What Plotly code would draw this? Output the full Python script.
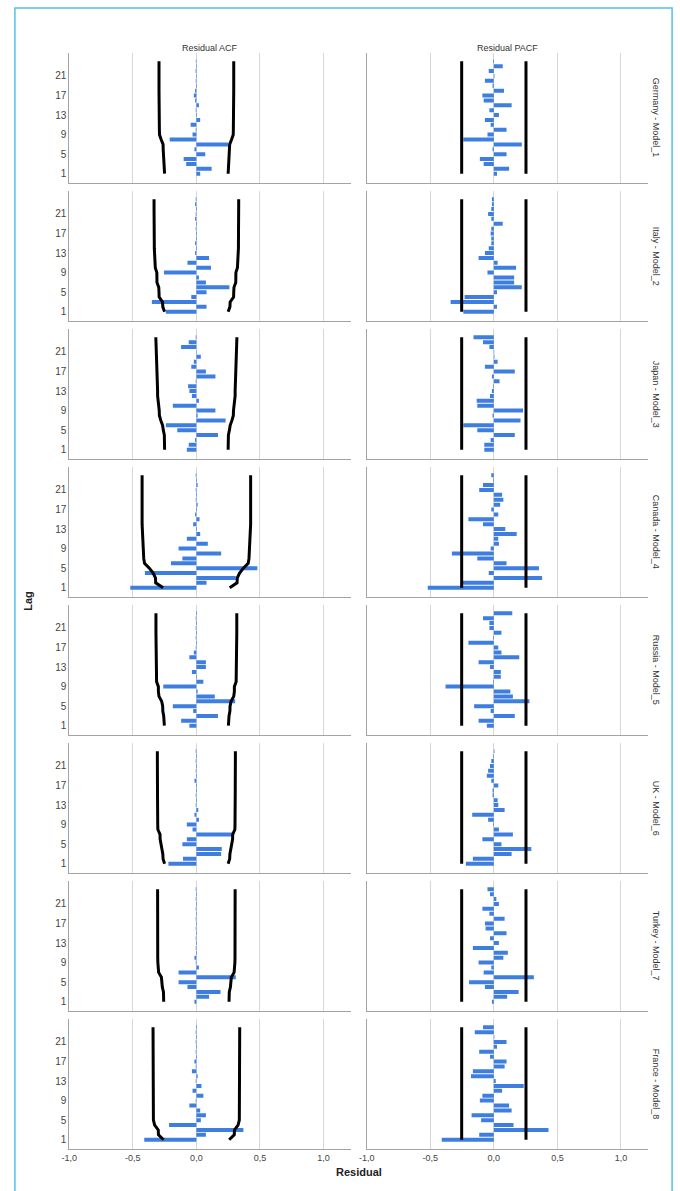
import plotly.graph_objects as go

lags = list(range(1, 25))
row_labels = ["Germany - Model_1", "Italy - Model_2", "Japan - Model_3", "Canada - Model_4",
              "Russia - Model_5", "UK - Model_6", "Turkey - Model_7", "France - Model_8"]
col_titles = ["Residual ACF", "Residual PACF"]
x_tickvals = [-1.0, -0.5, 0.0, 0.5, 1.0]
x_ticktext = ["-1,0", "-0,5", "0,0", "0,5", "1,0"]
y_tickvals = [1, 5, 9, 13, 17, 21]

# ---- residual ACF values (lag 1 .. 24) ----
germany_acf = [0.03, 0.12, -0.08, -0.10, 0.07, -0.015, 0.25, -0.21, -0.03, -0.005, -0.045, 0.03,
               0.005, -0.005, 0.02, -0.01, -0.02, -0.01, 0.005, -0.005, 0.004, -0.006, 0.004, -0.004]
italy_acf = [-0.24, 0.08, -0.35, -0.04, 0.08, 0.26, 0.075, 0.02, -0.255, 0.115, -0.07, 0.10,
             -0.01, 0.005, -0.01, 0.005, 0.005, -0.005, 0.005, -0.01, -0.005, 0.005, -0.01, -0.005]
japan_acf = [-0.075, -0.06, -0.01, 0.17, -0.15, -0.24, 0.23, 0.01, 0.15, -0.185, 0.02, -0.035,
             -0.055, -0.065, -0.005, 0.15, 0.075, -0.04, -0.02, 0.035, 0.003, -0.12, -0.06, -0.005]
canada_acf = [-0.52, 0.08, 0.31, -0.405, 0.48, -0.20, -0.11, 0.195, -0.14, 0.09, -0.075, 0.03,
              0.005, -0.025, 0.025, -0.01, 0.005, 0.01, -0.005, 0.005, -0.005, 0.01, 0.005, -0.005]
russia_acf = [-0.055, -0.12, 0.17, -0.025, -0.185, 0.305, 0.145, 0.01, -0.26, 0.055, 0.005, -0.035,
              0.075, 0.075, -0.055, -0.02, -0.005, 0.005, -0.005, 0.005, -0.005, 0.005, -0.005, 0.005]
uk_acf = [-0.22, -0.105, 0.195, 0.20, -0.11, -0.075, 0.285, -0.03, -0.075, 0.02, -0.015, 0.015,
          -0.005, 0.005, -0.005, 0.005, 0.005, -0.015, 0.005, -0.005, 0.005, -0.005, 0.005, -0.005]
turkey_acf = [-0.015, 0.10, 0.19, -0.07, -0.14, 0.31, -0.14, 0.02, -0.005, -0.015, 0.005, -0.005,
              0.005, -0.005, 0.005, -0.005, 0.005, -0.005, 0.005, -0.005, 0.005, -0.005, 0.005, -0.005]
france_acf = [-0.41, 0.075, 0.37, -0.215, 0.035, 0.075, 0.03, -0.055, -0.005, 0.055, -0.03, 0.04,
              -0.005, 0.01, -0.035, -0.005, -0.015, 0.005, -0.005, 0.005, -0.005, 0.005, -0.005, 0.005]

# ---- residual PACF values (lag 1 .. 24) ----
germany_pacf = [0.025, 0.12, -0.08, -0.11, 0.10, -0.01, 0.22, -0.24, -0.05, 0.10, -0.025, -0.07,
                0.04, -0.035, 0.14, -0.08, -0.09, 0.08, -0.01, -0.07, 0.005, -0.04, 0.07, -0.005]
italy_pacf = [-0.24, 0.025, -0.34, -0.23, 0.025, 0.22, 0.16, 0.16, -0.05, 0.175, 0.03, -0.12,
              -0.07, -0.04, -0.02, -0.02, -0.025, -0.02, 0.07, -0.02, -0.045, -0.02, -0.015, -0.015]
japan_pacf = [-0.075, -0.075, -0.025, 0.165, -0.13, -0.24, 0.21, -0.01, 0.23, -0.13, -0.135, -0.03,
              -0.015, -0.005, 0.045, -0.015, 0.165, -0.07, 0.03, 0.005, 0.003, -0.035, -0.085, -0.16]
canada_pacf = [-0.52, -0.25, 0.38, -0.04, 0.355, 0.10, -0.13, -0.33, -0.025, 0.04, 0.035, 0.18,
               0.09, -0.085, -0.20, 0.035, -0.02, 0.05, 0.075, 0.065, -0.115, -0.085, -0.005, -0.02]
russia_pacf = [-0.055, -0.12, 0.165, -0.025, -0.155, 0.28, 0.15, 0.13, -0.38, -0.005, 0.055, 0.055,
               -0.03, -0.12, 0.20, 0.06, 0.035, -0.20, -0.005, 0.06, -0.035, -0.035, -0.085, 0.145]
uk_pacf = [-0.22, -0.165, 0.14, 0.295, 0.06, -0.09, 0.15, 0.04, -0.005, -0.045, -0.17, 0.085,
           0.035, 0.03, -0.01, -0.01, 0.035, -0.02, -0.055, -0.045, -0.03, -0.02, -0.005, 0.005]
turkey_pacf = [-0.015, 0.105, 0.195, -0.07, -0.195, 0.315, -0.08, -0.02, -0.12, 0.075, 0.11, -0.165,
               0.04, -0.03, 0.10, -0.065, -0.07, 0.085, -0.035, -0.09, 0.04, 0.02, -0.03, -0.05]
france_pacf = [-0.41, -0.115, 0.43, 0.155, -0.10, -0.175, 0.14, 0.12, -0.11, -0.09, 0.065, 0.235,
               0.015, -0.18, -0.165, 0.085, 0.10, -0.03, -0.115, 0.025, 0.10, 0.004, -0.15, -0.085]

# ---- ACF confidence limits (upper; lower is the negative), lag 1 .. 24 ----
germany_lim = [0.250, 0.251, 0.254, 0.256, 0.259, 0.261, 0.262, 0.277, 0.290, 0.291, 0.292, 0.293,
               0.293, 0.293, 0.294, 0.294, 0.294, 0.294, 0.294, 0.294, 0.294, 0.294, 0.294, 0.294]
italy_lim = [0.250, 0.264, 0.266, 0.293, 0.294, 0.296, 0.310, 0.311, 0.311, 0.323, 0.326, 0.327,
             0.330, 0.331, 0.331, 0.332, 0.332, 0.332, 0.333, 0.333, 0.333, 0.333, 0.333, 0.333]
japan_lim = [0.250, 0.251, 0.252, 0.252, 0.260, 0.266, 0.280, 0.291, 0.292, 0.297, 0.304, 0.305,
             0.305, 0.306, 0.307, 0.307, 0.312, 0.313, 0.314, 0.314, 0.314, 0.315, 0.318, 0.319]
canada_lim = [0.262, 0.320, 0.322, 0.340, 0.370, 0.408, 0.414, 0.416, 0.421, 0.424, 0.425, 0.426,
              0.427, 0.427, 0.427, 0.427, 0.427, 0.427, 0.427, 0.427, 0.427, 0.427, 0.427, 0.427]
russia_lim = [0.252, 0.253, 0.257, 0.264, 0.265, 0.273, 0.294, 0.299, 0.299, 0.313, 0.314, 0.314,
              0.314, 0.315, 0.316, 0.317, 0.317, 0.318, 0.318, 0.318, 0.318, 0.318, 0.318, 0.318]
uk_lim = [0.250, 0.262, 0.264, 0.273, 0.282, 0.285, 0.286, 0.303, 0.304, 0.305, 0.305, 0.306,
          0.306, 0.306, 0.306, 0.306, 0.306, 0.307, 0.307, 0.307, 0.307, 0.307, 0.307, 0.307]
turkey_lim = [0.257, 0.257, 0.259, 0.268, 0.270, 0.275, 0.297, 0.302, 0.303, 0.304, 0.304, 0.305,
              0.305, 0.305, 0.305, 0.305, 0.305, 0.305, 0.305, 0.305, 0.305, 0.305, 0.305, 0.305]
france_lim = [0.258, 0.298, 0.300, 0.328, 0.338, 0.338, 0.339, 0.339, 0.340, 0.340, 0.340, 0.340,
              0.341, 0.341, 0.341, 0.341, 0.341, 0.341, 0.341, 0.341, 0.341, 0.341, 0.341, 0.341]

# ---- PACF confidence limits (constant per model) ----
pacf_lim = [0.253, 0.253, 0.253, 0.253, 0.253, 0.253, 0.253, 0.253]

acf_all = [germany_acf, italy_acf, japan_acf, canada_acf, russia_acf, uk_acf, turkey_acf, france_acf]
pacf_all = [germany_pacf, italy_pacf, japan_pacf, canada_pacf, russia_pacf, uk_pacf, turkey_pacf, france_pacf]
lim_all = [germany_lim, italy_lim, japan_lim, canada_lim, russia_lim, uk_lim, turkey_lim, france_lim]

W, H = 680, 1191
BAR = "#3d7ee0"
FONT = "Liberation Sans, Arial, sans-serif"
col_px = [(62, 347), (363, 648)]
TOP, PH, PITCH = 53, 130, 138

fig = go.Figure()
layout = {}
for r in range(8):
    for c in range(2):
        n = r * 2 + c + 1
        xa = "x" if n == 1 else f"x{n}"
        ya = "y" if n == 1 else f"y{n}"
        vals = acf_all[r] if c == 0 else pacf_all[r]
        fig.add_trace(go.Bar(x=vals, y=lags, orientation="h", width=0.82,
                             marker=dict(color=BAR, line=dict(width=0)),
                             xaxis=xa, yaxis=ya, showlegend=False, hoverinfo="skip"))
        if c == 0:
            up = lim_all[r]
            ly = lags
        else:
            up = [pacf_lim[r], pacf_lim[r]]
            ly = [lags[0], lags[-1]]
        for sign in (-1, 1):
            fig.add_trace(go.Scatter(x=[sign * v for v in up], y=ly, mode="lines",
                                     line=dict(color="black", width=3),
                                     xaxis=xa, yaxis=ya, showlegend=False, hoverinfo="skip"))
        x0, x1 = col_px[c]
        top = TOP + r * PITCH
        layout["xaxis" if n == 1 else f"xaxis{n}"] = dict(
            domain=[x0 / W, x1 / W], anchor=ya, range=[-1.0, 1.216],
            tickvals=x_tickvals, ticktext=x_ticktext, showticklabels=(r == 7),
            ticks="", showgrid=True, gridcolor="#d6d6d6", gridwidth=1,
            zeroline=False, showline=True, linecolor="#a3a3a3", linewidth=1,
            tickfont=dict(size=9, color="#444", family=FONT), fixedrange=True)
        layout["yaxis" if n == 1 else f"yaxis{n}"] = dict(
            domain=[1 - (top + PH) / H, 1 - top / H], anchor=xa, range=[-0.9, 25.7],
            tickvals=y_tickvals, showticklabels=(c == 0), ticks="",
            showgrid=False, zeroline=False, showline=True, linecolor="#a3a3a3", linewidth=1,
            tickfont=dict(size=10, color="#444", family=FONT), fixedrange=True)

annotations = []
for c in range(2):
    x0, x1 = col_px[c]
    annotations.append(dict(text=col_titles[c], x=(x0 + x1) / 2 / W, y=1 - 48 / H,
                            xref="paper", yref="paper", showarrow=False,
                            font=dict(size=9, color="#333", family=FONT),
                            xanchor="center", yanchor="middle"))
for r in range(8):
    cy = TOP + r * PITCH + PH / 2
    annotations.append(dict(text=row_labels[r], x=656 / W, y=1 - cy / H, textangle=90,
                            xref="paper", yref="paper", showarrow=False,
                            font=dict(size=9, color="#333", family=FONT),
                            xanchor="center", yanchor="middle"))
annotations.append(dict(text="<b>Lag</b>", x=20 / W, y=1 - 601 / H, textangle=-90,
                        xref="paper", yref="paper", showarrow=False,
                        font=dict(size=11, color="#222", family=FONT),
                        xanchor="center", yanchor="middle"))
annotations.append(dict(text="<b>Residual</b>", x=355 / W, y=1 - 1172 / H,
                        xref="paper", yref="paper", showarrow=False,
                        font=dict(size=11, color="#222", family=FONT),
                        xanchor="center", yanchor="middle"))

shapes = [dict(type="rect", xref="paper", yref="paper", x0=7 / W, x1=672 / W,
               y0=-0.02, y1=1 - 8 / H, line=dict(color="#55c1e6", width=1.5),
               fillcolor="rgba(0,0,0,0)", layer="above")]

fig.update_layout(width=W, height=H, autosize=False,
                  margin=dict(l=0, r=0, t=0, b=0, pad=0),
                  paper_bgcolor="white", plot_bgcolor="white",
                  barmode="overlay", annotations=annotations, shapes=shapes,
                  font=dict(family=FONT), hovermode=False, **layout)
fig.write_html("out.html", config={"displayModeBar": False, "staticPlot": True},
               post_script="document.body.style.margin='0';document.body.style.overflow='hidden';")
